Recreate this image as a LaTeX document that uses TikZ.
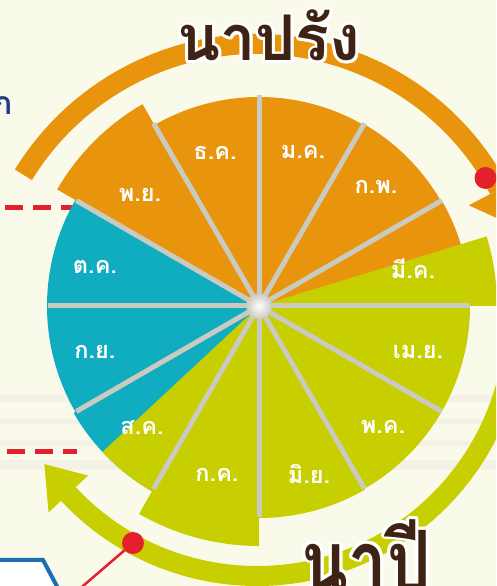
\documentclass[tikz,border=0pt]{standalone}
\usepackage{fontspec}
\newfontfamily\thaifont[Script=Thai]{Loma}
\usetikzlibrary{calc}

\definecolor{paper}{RGB}{250,250,234}
\definecolor{streak}{RGB}{234,228,226}
\definecolor{prang}{RGB}{232,148,12}
\definecolor{pee}{RGB}{199,207,0}
\definecolor{harvest}{RGB}{16,172,192}
\definecolor{gapgray}{RGB}{202,202,192}
\definecolor{soil}{RGB}{62,35,20}
\definecolor{alarm}{RGB}{227,32,43}
\definecolor{boxblue}{RGB}{28,109,179}
\definecolor{navy}{RGB}{31,60,136}

\newcommand{\narrow}[1]{\scalebox{.8}[1]{#1}}

\tikzset{
  month/.style={text=white, anchor=base, inner sep=0pt,
    font=\thaifont\bfseries\fontsize{23.5}{23.5}\selectfont},
  season/.style={text=soil, anchor=base, inner sep=0pt,
    font=\thaifont\bfseries\fontsize{#1}{#1}\selectfont},
  gapline/.style={draw=gapgray, line width=5pt},
  band/.style={line width=20pt},
  dashmark/.style={draw=alarm, line width=5pt, dash pattern=on 18pt off 10pt},
  pin/.style={fill=alarm, circle, inner sep=0pt, minimum size=22pt},
}

\begin{document}
\begin{tikzpicture}[x=1pt, y=1pt]
  \useasboundingbox (0,0) rectangle (496,586);
  \clip (0,0) rectangle (496,586);
  \fill[paper] (0,0) rectangle (496,586);
  \foreach \ya/\yb in {184/191, 162/167, 140/145, 116/126}
    \fill[streak, opacity=.35] (0,\ya) rectangle (496,\yb);

  % Points
  \coordinate (C) at (259,280);
  \coordinate (A) at (257,268);

  % Dashed markers
  \draw[dashmark] (5,378) -- (80,378);
  \draw[dashmark] (7,134) -- (77,134);

  % Arrows
  \draw[prang, band] ($(A)+(28:274)$) arc[start angle=28, end angle=148.5, radius=274];
  \fill[prang] ($(A)+(28:240)$) -- ($(A)+(28:308)$) -- ($(A)+(19.5:274)$) -- cycle;
  \draw[pee, band] ($(A)+(223:258)$) arc[start angle=223, end angle=345, radius=258];
  \fill[pee] ($(A)+(223:231)$) -- ($(A)+(223:285)$) -- ($(A)+(214.5:258)$) -- cycle;

  % Wedges
  \foreach \s/\r/\c in {0/211/prang, 30/210/prang, 60/209/prang, 90/209/prang,
      120/233/prang, 150/212/harvest, 180/212/harvest, 210/214/harvest,
      240/240/pee, 270/212/pee, 300/211/pee, 330/211/pee}
    \fill[\c] (C) -- ++(\s:\r) arc[start angle=\s, delta angle=30, radius=\r] -- cycle;
  \fill[pee] (C) -- ++(0:238) arc[start angle=0, end angle=17, radius=238] -- cycle;
  \fill[pee] (C) -- ++(223:214) arc[start angle=223, end angle=240, radius=214] -- cycle;
  \foreach \a in {0,30,...,330}
    \draw[gapline] (C) -- ++(\a:211);
  \shade[inner color=white, outer color=gapgray] (C) circle (13);

  % Pins
  \coordinate (pinfoot) at (76,-6);
  \node[pin] (pintop) at ($(A)+(31.5:268)$) {};
  \node[pin] (pinlow) at (133,43) {};
  \draw[alarm, line width=2.5pt] (pinlow) -- (pinfoot);
  \filldraw[fill=white, draw=boxblue, line width=4pt] (-6,26) -- (43,26) -- (60,-6) -- (-6,-6) -- cycle;
  \node[text=navy, anchor=base east, inner sep=0pt,
    font=\thaifont\bfseries\fontsize{32}{32}\selectfont] (cut) at (13,471) {ก};

  % Months
  \node[month] (dec) at (215,426) {ธ.ค.};
  \node[month] (jan) at (303,427) {ม.ค.};
  \node[month] (feb) at (376,392) {ก.พ.};
  \node[month] (nov) at (140,384) {พ.ย.};
  \node[month] (oct) at (95,312) {ต.ค.};
  \node[month] (mar) at (413,307) {มี.ค.};
  \node[month] (sep) at (95,227) {ก.ย.};
  \node[month] (apr) at (418,227) {เม.ย.};
  \node[month] (aug) at (142,151) {ส.ค.};
  \node[month] (may) at (383,152) {พ.ค.};
  \node[month] (jul) at (217,104) {ก.ค.};
  \node[month] (jun) at (309,102) {มิ.ย.};

  % Seasons
  \foreach \a in {0,24,...,336} {
    \node[season=63, text=white] (rimprang\a) at ($(269,525)+(\a:3)$) {นาปรัง};
    \node[season=86, text=white] (rimpee\a) at ($(366,-6)+(\a:3)$) {\narrow{นาปี}};
  }
  \node[season=63] (prangtitle) at (269,525) {นาปรัง};
  \node[season=86] (peetitle) at (366,-6) {\narrow{นาปี}};
\end{tikzpicture}
\end{document}
